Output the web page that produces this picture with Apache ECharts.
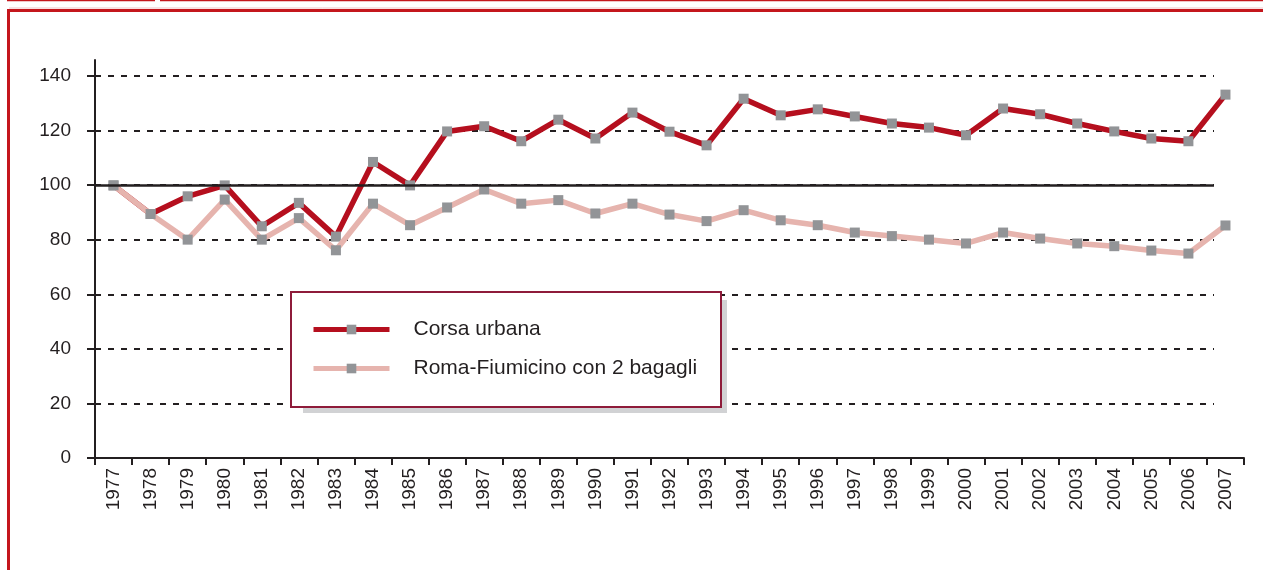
<!DOCTYPE html>
<html>
<head>
<meta charset="utf-8">
<script src="https://cdn.jsdelivr.net/npm/echarts@6/dist/echarts.min.js"></script>
<style>
  html, body { margin: 0; padding: 0; background: #fff; }
  #chart { width: 1263px; height: 570px; }
</style>
</head>
<body>
<div id="chart"></div>
<script>
// anni
const years = ["1977", "1978", "1979", "1980", "1981", "1982", "1983", "1984", "1985", "1986",
  "1987", "1988", "1989", "1990", "1991", "1992", "1993", "1994", "1995", "1996",
  "1997", "1998", "1999", "2000", "2001", "2002", "2003", "2004", "2005", "2006", "2007"];

// indici (1977 = 100)
const corsaUrbana = [100, 89.5, 96, 100, 85, 93.6, 81.2, 108.6, 100, 119.8,
  121.7, 116.2, 124.1, 117.2, 126.7, 119.7, 114.7, 131.8, 125.7, 127.9,
  125.3, 122.7, 121.2, 118.4, 128.2, 126.1, 122.7, 119.8, 117.2, 116.2, 133.3];
const romaFiumicino = [100, 89.5, 80.1, 94.8, 80.1, 88, 76.2, 93.3, 85.4, 91.9,
  98.5, 93.3, 94.6, 89.7, 93.3, 89.3, 86.9, 90.9, 87.2, 85.4,
  82.7, 81.4, 80.1, 78.7, 82.7, 80.5, 78.7, 77.7, 76.1, 75, 85.3];

const seriesNames = ["Corsa urbana", "Roma-Fiumicino con 2 bagagli"];
const yMax = 140;
const yStep = 20;
const baseValue = 100;

const font = "Liberation Sans, Arial, Helvetica, sans-serif";
const ink = "#231f20";

const chart = echarts.init(document.getElementById("chart"));

chart.setOption({
  animation: false,
  backgroundColor: "#fff",
  grid: [
    // griglia dei dati
    { left: 95, right: 19, top: 60, bottom: 112, outerBoundsMode: "none" },
    // griglia per le linee tratteggiate
    { left: 95, right: 49, top: 76, bottom: 112, outerBoundsMode: "none" }
  ],
  xAxis: [
    {
      type: "category",
      gridIndex: 0,
      data: years,
      boundaryGap: true,
      axisLine: { lineStyle: { color: ink, width: 2 } },
      axisTick: { show: true, length: 7, lineStyle: { color: ink, width: 2 } },
      axisLabel: {
        rotate: 90,
        interval: 0,
        margin: 10,
        color: ink,
        fontFamily: font,
        fontSize: 19
      },
      splitLine: { show: false }
    },
    {
      type: "category",
      gridIndex: 1,
      data: years,
      show: false
    }
  ],
  yAxis: [
    {
      type: "value",
      gridIndex: 0,
      min: 0,
      max: 146,
      axisLine: { show: true, lineStyle: { color: ink, width: 2 } },
      axisTick: { show: false },
      axisLabel: { show: false },
      splitLine: { show: false }
    },
    {
      type: "value",
      gridIndex: 1,
      min: 0,
      max: yMax,
      interval: yStep,
      axisLine: { show: false },
      axisTick: { show: true, length: 8, lineStyle: { color: ink, width: 2 } },
      axisLabel: {
        margin: 24,
        color: ink,
        fontFamily: font,
        fontSize: 19
      },
      splitLine: {
        show: true,
        lineStyle: { color: ink, width: 2, type: [6, 7] }
      }
    }
  ],
  legend: {
    data: seriesNames,
    orient: "vertical",
    left: 311,
    top: 319,
    padding: 0,
    itemWidth: 76,
    itemHeight: 12,
    itemGap: 18,
    z: 20,
    lineStyle: { width: 5 },
    textStyle: {
      color: ink,
      fontFamily: font,
      fontSize: 21,
      lineHeight: 21,
      padding: [0, 0, 0, 19]
    }
  },
  graphic: [
    // cornice
    { type: "line", z: 1, shape: { x1: 7, y1: 0.5, x2: 155, y2: 0.5 }, style: { stroke: "#c4161c", lineWidth: 1.5 } },
    { type: "line", z: 1, shape: { x1: 160, y1: 0.5, x2: 1263, y2: 0.5 }, style: { stroke: "#c4161c", lineWidth: 1.5 } },
    { type: "line", z: 1, shape: { x1: 9, y1: 8, x2: 1263, y2: 8 }, style: { stroke: "#eec3c6", lineWidth: 1 } },
    {
      type: "rect", z: 1,
      shape: { x: 8.5, y: 10.5, width: 1300, height: 600 },
      style: { fill: null, stroke: "#c4161c", lineWidth: 3 }
    },
    // riquadro legenda
    {
      type: "rect", z: 10,
      shape: { x: 303, y: 300, width: 424, height: 113 },
      style: { fill: "#d1d2d4" }
    },
    {
      type: "rect", z: 11,
      shape: { x: 291, y: 292, width: 430, height: 115 },
      style: { fill: "#fff", stroke: "#8e1b3a", lineWidth: 2 }
    }
  ],
  series: [
    {
      name: seriesNames[0],
      type: "line",
      xAxisIndex: 0,
      yAxisIndex: 0,
      data: corsaUrbana,
      symbol: "rect",
      symbolSize: 10,
      itemStyle: { color: "#929497" },
      lineStyle: { color: "#b50f1e", width: 5.5 },
      z: 3
    },
    {
      name: seriesNames[1],
      type: "line",
      xAxisIndex: 0,
      yAxisIndex: 0,
      data: romaFiumicino,
      symbol: "rect",
      symbolSize: 10,
      itemStyle: { color: "#929497" },
      lineStyle: { color: "#e6b4ae", width: 5.5 },
      z: 4
    },
    {
      // linea di base 100
      name: "base",
      type: "line",
      xAxisIndex: 1,
      yAxisIndex: 1,
      data: [],
      markLine: {
        silent: true,
        symbol: "none",
        label: { show: false },
        lineStyle: { color: ink, width: 2.5, type: "solid" },
        data: [{ yAxis: baseValue }]
      }
    }
  ]
});
</script>
</body>
</html>
